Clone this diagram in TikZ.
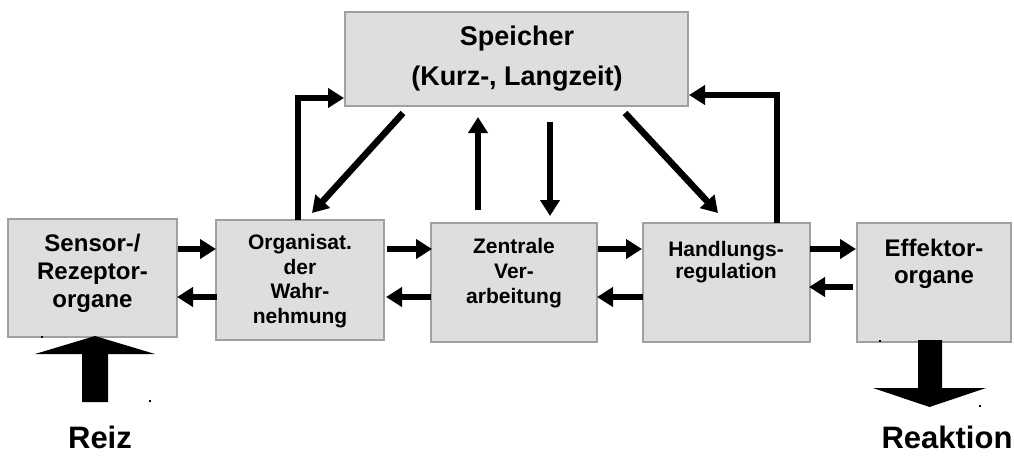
\documentclass[tikz,border=0pt]{standalone}
\usepackage{fontspec}
\setmainfont{Liberation Sans}
\usetikzlibrary{arrows.meta}
\definecolor{boxfill}{HTML}{DEDEDE}
\definecolor{boxline}{HTML}{A0A0A0}
\tikzset{
  box/.style={draw=boxline, fill=boxfill, line width=2.2pt, rectangle, inner sep=0pt},
  txt/.style={align=center, font=\bfseries, inner sep=0pt},
  conn/.style={line width=6.5pt, -{Triangle[length=16pt,width=19pt]}},
  bigarrow/.style={fill=black},
  speck/.style={fill=black}
}
\begin{document}
\begin{tikzpicture}[x=1pt,y=-1pt]
\useasboundingbox (0,0) rectangle (1014,455);
% boxes
\node[box, minimum width=343pt, minimum height=94pt] (spe) at (516.5,59) {};
\node[box, minimum width=169pt, minimum height=118pt] (sen) at (92.5,278) {};
\node[box, minimum width=168pt, minimum height=120pt] (org) at (300,280) {};
\node[box, minimum width=166pt, minimum height=119pt] (zen) at (514,282.5) {};
\node[box, minimum width=167pt, minimum height=119pt] (han) at (726.5,282.5) {};
\node[box, minimum width=154pt, minimum height=119pt] (eff) at (934,282.5) {};
% texts
\node[txt, font=\bfseries\fontsize{27}{40}\selectfont] (tspe) at (517,59) {Speicher\\(Kurz-, Langzeit)};
\node[txt, font=\bfseries\fontsize{24}{28}\selectfont] (tsen) at (92.5,273) {Sensor-/\\Rezeptor-\\organe};
\node[txt, font=\bfseries\fontsize{21}{24.7}\selectfont] (torg) at (300,281) {Organisat.\\der\\Wahr-\\nehmung};
\node[txt, font=\bfseries\fontsize{21}{25}\selectfont] (tzen) at (514,273) {Zentrale\\Ver-\\arbeitung};
\node[txt, font=\bfseries\fontsize{21}{22}\selectfont] (than) at (726,262) {Handlungs-\\regulation};
\node[txt, font=\bfseries\fontsize{24}{27}\selectfont] (teff) at (934,264) {Effektor-\\organe};
\node[txt, font=\bfseries\fontsize{31}{36}\selectfont] (reiz) at (100,437) {Reiz};
\node[txt, font=\bfseries\fontsize{31}{36}\selectfont] (reak) at (947,437) {Reaktion};
% anchor coordinates
\coordinate (s1) at (178,249); \coordinate (o1) at (216,249);
\coordinate (s2) at (177,297); \coordinate (o2) at (217,297);
\coordinate (o3) at (387,249); \coordinate (z3) at (432,249);
\coordinate (o4) at (386,297); \coordinate (z4) at (431,297);
\coordinate (z5) at (598,249); \coordinate (h5) at (642,249);
\coordinate (z6) at (597,297); \coordinate (h6) at (643,297);
\coordinate (h7) at (810,249); \coordinate (e7) at (856,249);
\coordinate (h8) at (809,287); \coordinate (e8) at (853,287);
% horizontal connectors
\draw[conn] (s1) -- (o1);
\draw[conn] (o2) -- (s2);
\draw[conn] (o3) -- (z3);
\draw[conn] (z4) -- (o4);
\draw[conn] (z5) -- (h5);
\draw[conn] (h6) -- (z6);
\draw[conn] (h7) -- (e7);
\draw[conn] (e8) -- (h8);
% links with the store
\coordinate (ot) at (298,220);
\coordinate (sl) at (344,98);
\draw[conn] (ot) |- (sl);
\coordinate (ht) at (777,223);
\coordinate (sr) at (689,95);
\draw[conn] (ht) |- (sr);
\coordinate (d1a) at (403,113); \coordinate (d1b) at (312,213);
\draw[conn] (d1a) -- (d1b);
\coordinate (u1a) at (478,210); \coordinate (u1b) at (478,117);
\draw[conn] (u1a) -- (u1b);
\coordinate (v1a) at (550,122); \coordinate (v1b) at (550,216);
\draw[conn] (v1a) -- (v1b);
\coordinate (d2a) at (625,113); \coordinate (d2b) at (718,213);
\draw[conn] (d2a) -- (d2b);
% big arrows
\fill[bigarrow] (82,402) -- (108,402) -- (108,354) -- (155,354) -- (95,336) -- (35,354) -- (82,354) -- cycle;
\fill[bigarrow] (918,340) -- (942,340) -- (942,388) -- (986,388) -- (929.5,407) -- (873,388) -- (918,388) -- cycle;
% specks
\fill[speck] (41,336) rectangle (43,338);
\fill[speck] (149,400) rectangle (151,402);
\fill[speck] (879,340) rectangle (881,342);
\fill[speck] (979,405) rectangle (981,407);
\end{tikzpicture}
\end{document}
